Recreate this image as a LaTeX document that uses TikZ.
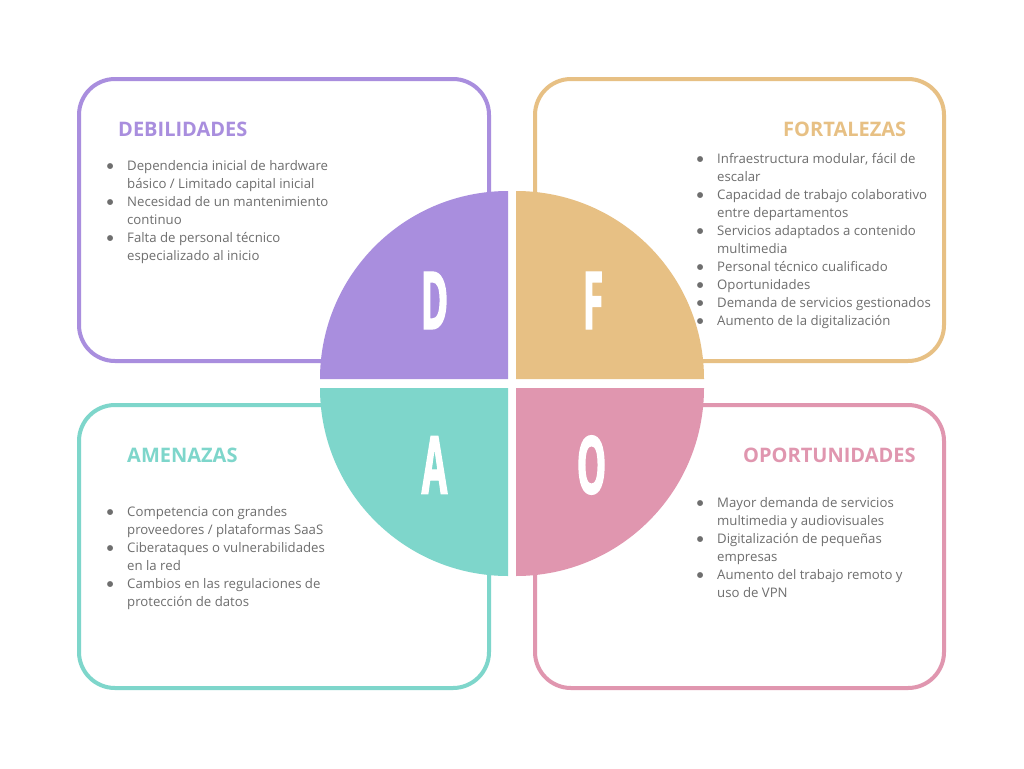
\documentclass[tikz,border=0pt]{standalone}
\usepackage{fontspec}
\setmainfont{Open Sans}
\newfontfamily\letterfont{Open Sans}[FakeStretch=0.46,FakeBold=1.6]
\newfontfamily\dotfont{DejaVu Sans}
\definecolor{cD}{HTML}{A98EDE}
\definecolor{cF}{HTML}{E7C084}
\definecolor{cA}{HTML}{7ED6CB}
\definecolor{cO}{HTML}{E096AF}
\definecolor{txt}{HTML}{6E6E6E}
% hanging bullet placed 17pt left of the text column
\newcommand\itemdot{\llap{\makebox[0pt]{\raisebox{1.3pt}{\dotfont\fontsize{7.6}{7.6}\selectfont ●}}\hspace{17pt}}}
\begin{document}
\begin{tikzpicture}[x=1pt,y=-1pt,
  card/.style={line width=4pt,rounded corners=36pt},
  letter/.style={inner sep=0pt,text=white,font=\letterfont\bfseries\fontsize{80}{80}\selectfont},
  heading/.style={inner sep=0pt,anchor=base west,font=\bfseries\fontsize{20}{20}\selectfont},
  points/.style={inner sep=0pt,anchor=base west,text=txt,font=\fontsize{13.2}{18}\selectfont}]
\useasboundingbox (0,0) rectangle (1024,768);
\fill[white] (0,0) rectangle (1024,768);

% four framed cards
\draw[card,cD] (79,79) rectangle (489,361);
\draw[card,cF] (535,79) rectangle (944,361);
\draw[card,cA] (79,405) rectangle (489,688);
\draw[card,cO] (535,405) rectangle (944,688);

% central disc split into quarters
\fill[cD] (508,379) -- (320,379) arc[start angle=180,end angle=270,radius=188] -- cycle;
\fill[cF] (516,379) -- (516,191) arc[start angle=270,end angle=360,radius=188] -- cycle;
\fill[cA] (508,388) -- (320,388) arc[start angle=180,end angle=90,radius=188] -- cycle;
\fill[cO] (516,388) -- (704,388) arc[start angle=0,end angle=90,radius=188] -- cycle;

\node[letter] (lD) at (434.5,300.5) {D};
\node[letter] (lF) at (593,300.5) {F};
\node[letter] (lA) at (434.5,465) {A};
\node[letter] (lO) at (591.5,465) {O};

% headings
\node[heading,text=cD] (hD) at (118,136) {DEBILIDADES};
\node[heading,text=cF] (hF) at (783,136) {FORTALEZAS};
\node[heading,text=cA] (hA) at (127,462) {AMENAZAS};
\node[heading,text=cO] (hO) at (743,462) {OPORTUNIDADES};

% item lists
\node[points] (pD) at (127,170) {\begin{tabular}[t]{@{}l@{}}
\itemdot Dependencia inicial de hardware\\
básico / Limitado capital inicial\\
\itemdot Necesidad de un mantenimiento\\
continuo\\
\itemdot Falta de personal técnico\\
especializado al inicio
\end{tabular}};

\node[points] (pF) at (717,163) {\begin{tabular}[t]{@{}l@{}}
\itemdot Infraestructura modular, fácil de\\
escalar\\
\itemdot Capacidad de trabajo colaborativo\\
entre departamentos\\
\itemdot Servicios adaptados a contenido\\
multimedia\\
\itemdot Personal técnico cualificado\\
\itemdot Oportunidades\\
\itemdot Demanda de servicios gestionados\\
\itemdot Aumento de la digitalización
\end{tabular}};

\node[points] (pA) at (127,516) {\begin{tabular}[t]{@{}l@{}}
\itemdot Competencia con grandes\\
proveedores / plataformas SaaS\\
\itemdot Ciberataques o vulnerabilidades\\
en la red\\
\itemdot Cambios en las regulaciones de\\
protección de datos
\end{tabular}};

\node[points] (pO) at (717,507) {\begin{tabular}[t]{@{}l@{}}
\itemdot Mayor demanda de servicios\\
multimedia y audiovisuales\\
\itemdot Digitalización de pequeñas\\
empresas\\
\itemdot Aumento del trabajo remoto y\\
uso de VPN
\end{tabular}};
\end{tikzpicture}
\end{document}
